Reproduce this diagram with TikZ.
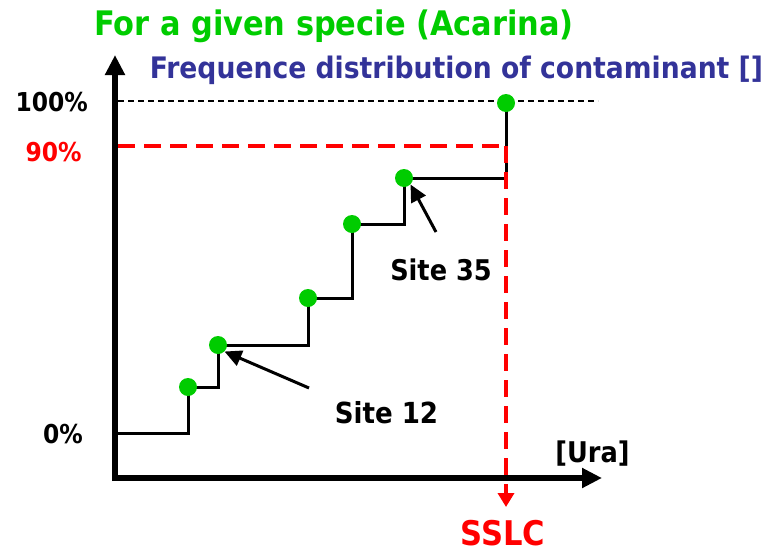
\documentclass[tikz,border=0pt]{standalone}
\usepackage{fontspec}
\setmainfont{DejaVu Sans Condensed}
\usetikzlibrary{arrows.meta}
\definecolor{titlegreen}{RGB}{0,204,0}
\definecolor{dotgreen}{RGB}{0,204,0}
\definecolor{distblue}{RGB}{51,51,153}
\definecolor{sslcred}{RGB}{255,0,0}
\tikzset{
  axis/.style={line width=6.5pt, -{Triangle[length=20pt,width=19pt]}},
  stair/.style={line width=3pt},
  reddash/.style={line width=4.3pt, sslcred, dash pattern=on 17pt off 9pt},
  dot/.style={circle, fill=dotgreen, inner sep=0pt, minimum size=18pt},
  pointer/.style={line width=3pt, -{Triangle[length=17pt,width=16pt]}},
  lbl/.style={font=\bfseries\fontsize{26}{30}\selectfont, inner sep=0pt, anchor=base}
}
\begin{document}
\begin{tikzpicture}[x=1pt,y=-1pt]
    \useasboundingbox (0,0) rectangle (768,555);

    % Titles
    \node[lbl, text=titlegreen, font=\bfseries\fontsize{33.8}{38}\selectfont] (title) at (334,35) {For a given specie (Acarina)};
    \node[lbl, text=distblue, font=\bfseries\fontsize{29.6}{34}\selectfont] (subtitle) at (456.5,78) {Frequence distribution of contaminant []};

    % Draw coordinate axes
    \coordinate (origin) at (115,478);
    \coordinate (ytop) at (115,55);
    \coordinate (xend) at (602,478);
    \draw[axis] (origin) ++(0,3) -- (ytop);
    \draw[axis] (origin) ++(-3,0) -- (xend);

    % Sites (cumulative frequency)
    \coordinate (start) at (118,433);
    \coordinate (s1) at (188,387);
    \coordinate (s2) at (218,345);
    \coordinate (s3) at (308,298);
    \coordinate (s4) at (352,224);
    \coordinate (s5) at (404,178);
    \coordinate (s6) at (506,103);

    % Reference levels
    \coordinate (full) at (118,101);
    \coordinate (fullend) at (598,101);
    \coordinate (ninety) at (118,146);
    \coordinate (ninetyend) at (506,146);
    \coordinate (sslcpt) at (506,507);
    \draw[line width=1.8pt, dash pattern=on 6pt off 4pt] (full) -- (fullend);
    \draw[stair] (start) -| (s1) -| (s2) -| (s3) -| (s4) -| (s5) -| (s6);
    \draw[reddash] (ninety) -- (ninetyend);
    \draw[reddash, -{Triangle[length=14pt,width=16pt]}] (ninetyend) -- (sslcpt);

    \foreach \s in {s1,s2,s3,s4,s5,s6}
        \node[dot] (d\s) at (\s) {};

    % Labels
    \node[lbl, anchor=base east] (l100) at (88,111) {100\%};
    \node[lbl, text=sslcred] (l90) at (53.5,161) {90\%};
    \node[lbl] (l0) at (63,443) {0\%};
    \node[lbl, font=\bfseries\fontsize{28.5}{32}\selectfont] (ura) at (592.5,462) {[Ura]};
    \node[lbl, text=sslcred, font=\bfseries\fontsize{34}{40}\selectfont] (sslc) at (503,545) {SSLC};
    \node[lbl, font=\bfseries\fontsize{29}{34}\selectfont] (site12) at (386.5,423) {Site 12};
    \node[lbl, font=\bfseries\fontsize{28.5}{34}\selectfont] (site35) at (441,280) {Site 35};

    % Pointers to sites
    \coordinate (tail12) at (309,388);
    \coordinate (tail35) at (436,232);
    \draw[pointer] (tail12) -- (ds2.south east);
    \draw[pointer] (tail35) -- (ds5.south east);
\end{tikzpicture}
\end{document}
